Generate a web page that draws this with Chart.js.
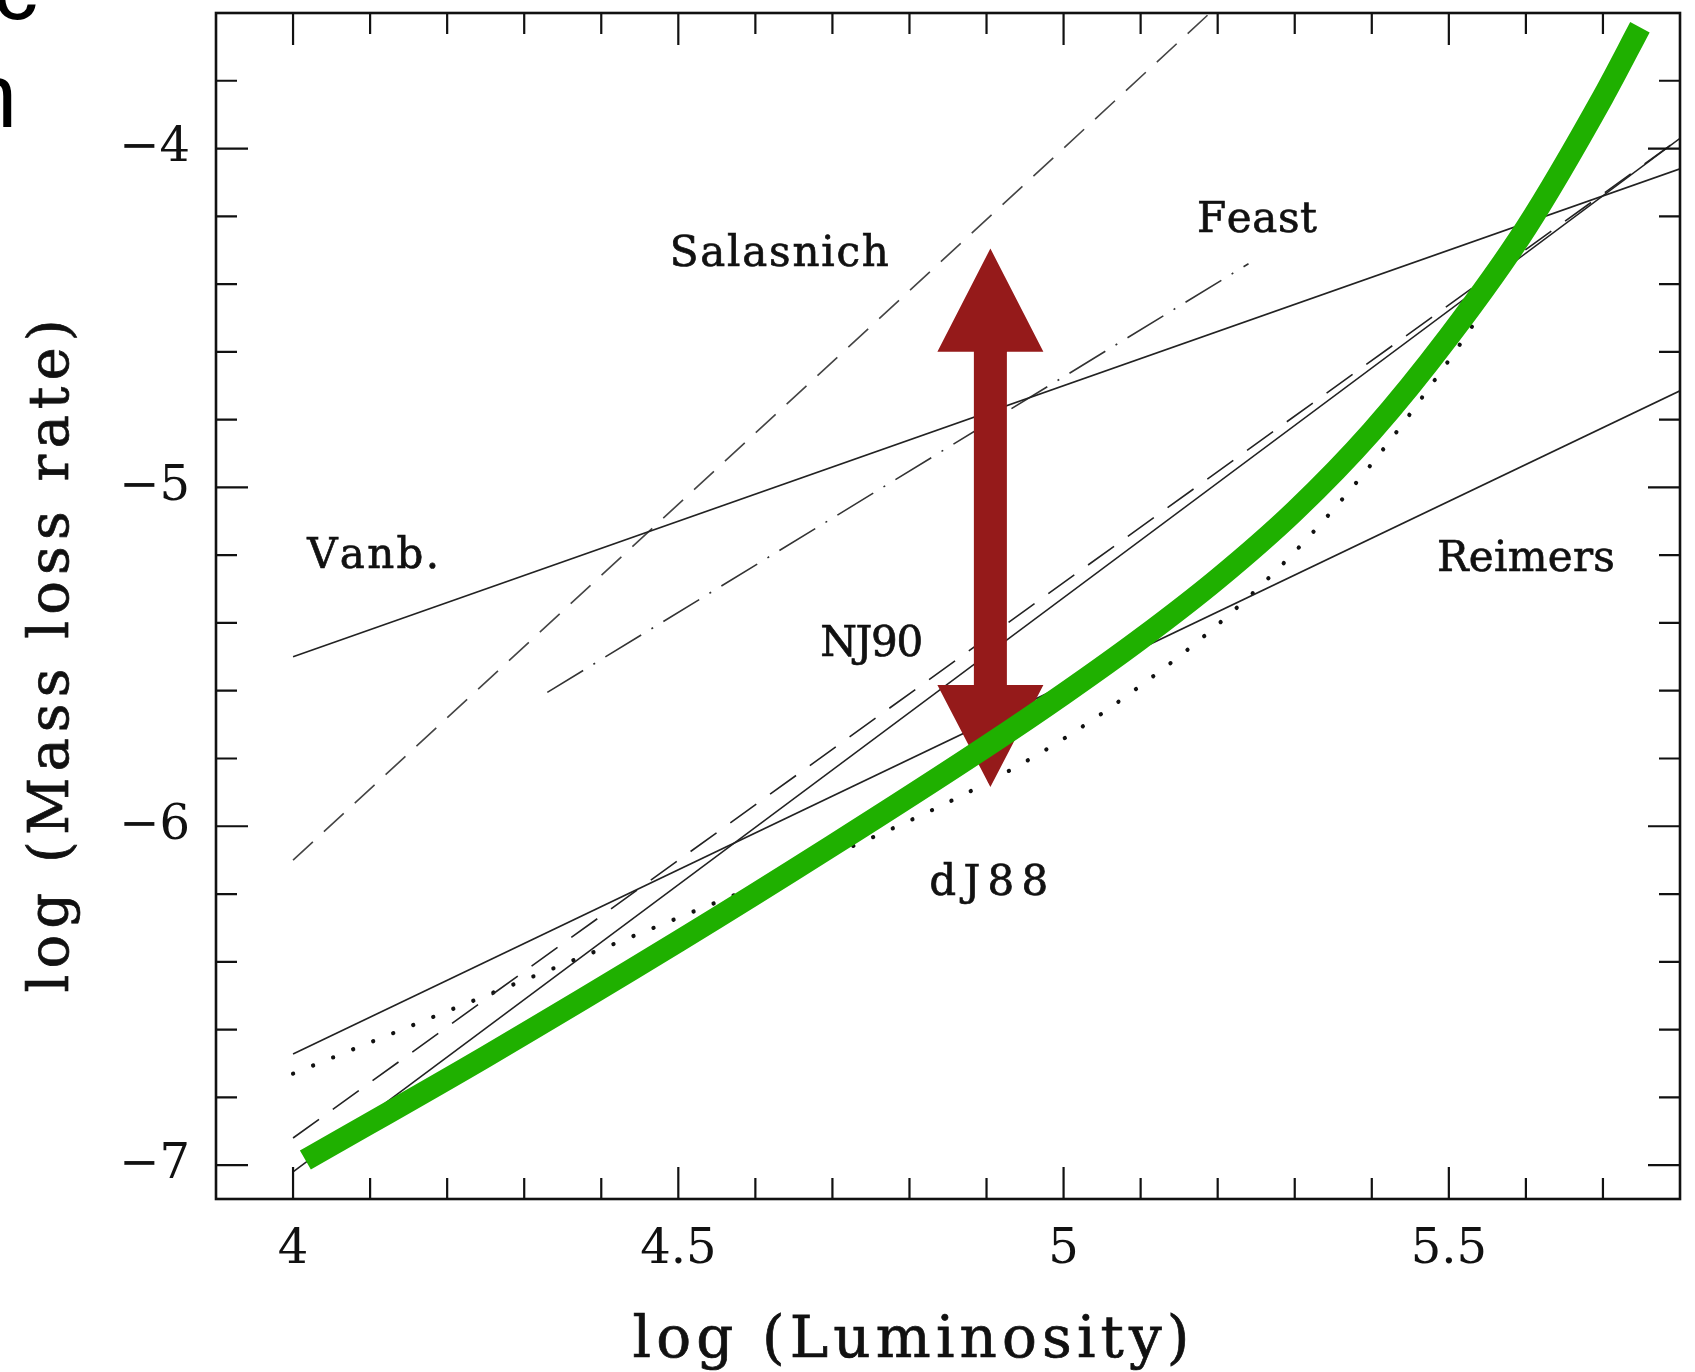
<!DOCTYPE html>
<html>
<head>
<meta charset="utf-8">
<script src="https://cdn.jsdelivr.net/npm/chart.js@4.4.1/dist/chart.umd.min.js"></script>
<style>
  html, body { margin: 0; padding: 0; background: #fff; overflow: hidden; }
  #wrap { position: relative; width: 1695px; height: 1372px; overflow: hidden; }
  #chart { display: block; }
  .slide {
    position: absolute;
    font-family: "Liberation Sans", Arial, sans-serif;
    font-size: 90px;
    line-height: 90px;
    color: #000;
    transform: translateX(-100%);
    white-space: nowrap;
  }
</style>
</head>
<body>
<div id="wrap">
  <canvas id="chart" width="1695" height="1372"></canvas>
  <span class="slide" style="left:38px; top:-57px;">c</span>
  <span class="slide" style="left:17px; top:51px;">n</span>
</div>
<script>
// axis ticks
const xTickLabels = [4, 4.5, 5, 5.5];
const yTickLabels = [-7, -6, -5, -4];
const xMinorTicks = [4.1, 4.2, 4.3, 4.4, 4.6, 4.7, 4.8, 4.9, 5.1, 5.2, 5.3, 5.4, 5.6, 5.7];
const yMinorTicks = [-6.8, -6.6, -6.4, -6.2, -5.8, -5.6, -5.4, -5.2, -4.8, -4.6, -4.4, -4.2, -3.8];

// mass loss prescriptions, log L vs log Mdot
const vanbX = [4.0, 5.8];
const vanbY = [-5.50, -4.06];
const salasnichX = [4.0, 5.19];
const salasnichY = [-6.10, -3.60];
const feastX = [4.33, 5.24];
const feastY = [-5.605, -4.34];
const reimersX = [4.0, 5.8];
const reimersY = [-6.672, -4.715];
const nj90X = [4.0, 5.8];
const nj90Y = [-6.92, -3.97];
const steepX = [4.0, 5.8];
const steepY = [-7.02, -3.97];
const dj88X = [4.0, 4.25, 4.5, 4.75, 4.9, 5.0, 5.1, 5.2, 5.3, 5.4, 5.5, 5.545];
const dj88Y = [-6.73, -6.50, -6.27, -6.035, -5.872, -5.742, -5.585, -5.405, -5.19, -4.93, -4.625, -4.475];
const greenX = [4.016, 4.25, 4.5, 4.7, 4.9, 5.0, 5.1, 5.2, 5.3, 5.4, 5.5, 5.6, 5.7, 5.748];
const greenY = [-6.985, -6.68, -6.34, -6.057, -5.764, -5.61, -5.447, -5.27, -5.07, -4.835, -4.555, -4.235, -3.848, -3.642];

// double arrow: x, then tip / head base / head base / tip
const arrowX = 4.905;
const arrowY = [-4.295, -4.60, -5.583, -5.884];

// curve labels (anchor = centre of baseline)
const labelTexts = ["Salasnich", "Feast", "Vanb.", "NJ90", "dJ88", "Reimers"];
const labelX = [4.631, 5.251, 4.104, 4.751, 4.903, 5.600];
const labelY = [-4.347, -4.247, -5.238, -5.497, -6.204, -5.246];

const labelWidths = [219, 120, 132, 103, 119, 178];
const serif = '"DejaVu Serif", serif';

function pts(xs, ys) {
  return xs.map((x, i) => ({ x: x, y: ys[i] }));
}

function thin(data, dash, color) {
  return {
    data: data,
    showLine: true,
    borderColor: color || "#222",
    borderWidth: 1.6,
    borderDash: dash || [],
    pointRadius: 0,
    fill: false
  };
}

// spread letters so the text fills a given width
function spacedText(ctx, text, cx, baseline, width) {
  const chars = text.split("");
  const ws = chars.map(c => ctx.measureText(c).width);
  const total = ws.reduce((a, b) => a + b, 0);
  const gap = chars.length > 1 ? (width - total) / (chars.length - 1) : 0;
  let px = cx - width / 2;
  ctx.textAlign = "left";
  chars.forEach((c, i) => {
    ctx.fillText(c, px, baseline);
    ctx.strokeText(c, px, baseline);
    px += ws[i] + gap;
  });
}

function drawArrow(chart) {
  const { ctx, scales: { x, y } } = chart;
  const cx = x.getPixelForValue(arrowX);
  const y0 = y.getPixelForValue(arrowY[0]);
  const y1 = y.getPixelForValue(arrowY[1]);
  const y2 = y.getPixelForValue(arrowY[2]);
  const y3 = y.getPixelForValue(arrowY[3]);
  const sw = 16.5, hw = 53;
  ctx.save();
  ctx.fillStyle = "#951a1a";
  ctx.beginPath();
  ctx.moveTo(cx, y0);
  ctx.lineTo(cx + hw, y1);
  ctx.lineTo(cx + sw, y1);
  ctx.lineTo(cx + sw, y2);
  ctx.lineTo(cx + hw, y2);
  ctx.lineTo(cx, y3);
  ctx.lineTo(cx - hw, y2);
  ctx.lineTo(cx - sw, y2);
  ctx.lineTo(cx - sw, y1);
  ctx.lineTo(cx - hw, y1);
  ctx.closePath();
  ctx.fill();
  ctx.restore();
}

function drawFrame(chart) {
  const { ctx, chartArea: a, scales: { x, y } } = chart;
  ctx.save();
  ctx.strokeStyle = "#111";
  ctx.lineWidth = 2.6;
  ctx.strokeRect(a.left, a.top, a.right - a.left, a.bottom - a.top);
  ctx.lineWidth = 2.2;
  ctx.beginPath();
  const xt = (v, len) => {
    const p = x.getPixelForValue(v);
    ctx.moveTo(p, a.bottom); ctx.lineTo(p, a.bottom - len);
    ctx.moveTo(p, a.top); ctx.lineTo(p, a.top + len);
  };
  const yt = (v, len) => {
    const p = y.getPixelForValue(v);
    ctx.moveTo(a.left, p); ctx.lineTo(a.left + len, p);
    ctx.moveTo(a.right, p); ctx.lineTo(a.right - len, p);
  };
  xTickLabels.forEach(v => xt(v, 32));
  xMinorTicks.forEach(v => xt(v, 21));
  yTickLabels.forEach(v => yt(v, 32));
  yMinorTicks.forEach(v => yt(v, 21));
  ctx.stroke();
  ctx.restore();
}

function drawTexts(chart) {
  const { ctx, chartArea: a, scales: { x, y } } = chart;
  ctx.save();
  ctx.fillStyle = "#111";
  ctx.strokeStyle = "#111";
  ctx.lineWidth = 0.7;
  ctx.textBaseline = "alphabetic";
  ctx.font = "42px " + serif;
  labelTexts.forEach((t, i) => {
    spacedText(ctx, t, x.getPixelForValue(labelX[i]), y.getPixelForValue(labelY[i]), labelWidths[i]);
  });

  // axis titles
  ctx.font = "58px " + serif;
  spacedText(ctx, "log (Luminosity)", a.left + 695, a.bottom + 158, 557);
  ctx.translate(68, a.top + 643);
  ctx.rotate(-Math.PI / 2);
  ctx.font = "56px " + serif;
  spacedText(ctx, "log (Mass loss rate)", 0, 0, 673);
  ctx.restore();
}

const decor = {
  id: "decor",
  beforeDatasetDraw(chart, args) {
    if (args.index === 0) drawArrow(chart);
  },
  afterDraw(chart) {
    drawFrame(chart);
    drawTexts(chart);
  }
};

const tickFont = { family: serif, size: 48 };

new Chart(document.getElementById("chart"), {
  type: "scatter",
  data: {
    datasets: [
      {
        data: pts(greenX, greenY),
        showLine: true,
        borderColor: "#1fb000",
        borderWidth: 22,
        borderCapStyle: "butt",
        cubicInterpolationMode: "monotone",
        pointRadius: 0,
        fill: false
      },
      thin(pts(vanbX, vanbY)),
      thin(pts(reimersX, reimersY)),
      thin(pts(steepX, steepY)),
      thin(pts(nj90X, nj90Y), [32, 17]),
      thin(pts(salasnichX, salasnichY), [27, 15], "#444"),
      thin(pts(feastX, feastY), [42, 12, 2, 12], "#333"),
      {
        data: pts(dj88X, dj88Y),
        showLine: true,
        borderColor: "#111",
        borderWidth: 4.2,
        borderDash: [0.1, 21.5],
        borderCapStyle: "round",
        cubicInterpolationMode: "monotone",
        pointRadius: 0,
        fill: false
      }
    ]
  },
  options: {
    responsive: false,
    animation: false,
    devicePixelRatio: 1,
    layout: { padding: { top: 13, right: 15, left: 0, bottom: 0 } },
    plugins: {
      legend: { display: false },
      tooltip: { enabled: false }
    },
    scales: {
      x: {
        type: "linear",
        min: 3.9,
        max: 5.8,
        grid: { display: false, drawTicks: false },
        border: { display: false },
        ticks: {
          font: tickFont,
          color: "#111",
          padding: 23,
          maxRotation: 0,
          callback: v => String(v)
        },
        afterBuildTicks: s => { s.ticks = xTickLabels.map(v => ({ value: v })); },
        afterFit: s => { s.height = 173; s.paddingLeft = 0; s.paddingRight = 0; }
      },
      y: {
        type: "linear",
        min: -7.1,
        max: -3.6,
        grid: { display: false, drawTicks: false },
        border: { display: false },
        ticks: {
          font: tickFont,
          color: "#111",
          padding: 26,
          callback: v => String(v).replace("-", "\u2212")
        },
        afterBuildTicks: s => { s.ticks = yTickLabels.map(v => ({ value: v })); },
        afterFit: s => { s.width = 216; s.paddingTop = 0; s.paddingBottom = 0; }
      }
    }
  },
  plugins: [decor]
});
</script>
</body>
</html>
